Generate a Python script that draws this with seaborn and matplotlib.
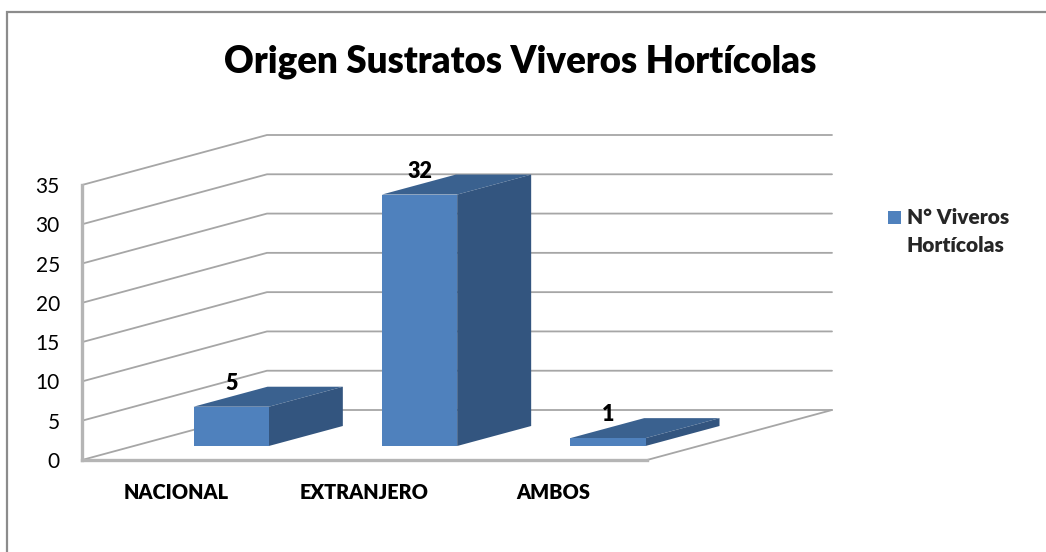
import matplotlib
matplotlib.use("Agg")
import matplotlib.pyplot as plt
from matplotlib.lines import Line2D
from matplotlib.patches import Polygon
import pandas as pd
import seaborn as sns

categorias = ["NACIONAL", "EXTRANJERO", "AMBOS"]
viveros = [5, 32, 1]
ticks = [0, 5, 10, 15, 20, 25, 30, 35]
titulo = "Origen Sustratos Viveros Hortícolas"
serie = "N° Viveros\nHortícolas"

sns.set_theme(style="white")
plt.rcParams["font.family"] = ["Lato", "DejaVu Sans"]

W, H = 1046, 552
AZUL = "#4f81bd"
AZUL_TOP = "#3a618f"
AZUL_LADO = "#33557f"
GRIS = "#a6a6a6"
PESO = "heavy"

df = pd.DataFrame({"origen": categorias, "n": viveros, "serie": serie})

fig = plt.figure(figsize=(W / 100, H / 100), dpi=100)
# ejes = pared frontal del grafico 3d, en pixeles de la imagen
x0, x1, y0, y1 = 82, 647, 460, 185
ax = fig.add_axes([x0 / W, 1 - y0 / H, (x1 - x0) / W, (y0 - y1) / H])
sns.barplot(data=df, x="origen", y="n", hue="serie", palette=[AZUL], saturation=1, width=0.4, linewidth=0, ax=ax)
ax.set_xlim(-0.5, 2.5)
ax.set_ylim(0, 35)
ax.set_yticks(ticks)
ax.patch.set_alpha(0)
ax.set_xlabel("")
ax.set_ylabel("")
sns.despine(ax=ax, top=True, right=True)

# profundidad en unidades de datos
px_x = (x1 - x0) / 3
px_y = (y0 - y1) / 35
prof_x, prof_y = 185 / px_x, 50 / px_y
base_x, base_y = 55 / px_x, 14 / px_y
barra_x, barra_y = 74 / px_x, 20 / px_y

# pared y piso
for t in ticks:
    ax.plot([-0.5, -0.5 + prof_x, 2.5 + prof_x], [t, t + prof_y, t + prof_y],
            color=GRIS, lw=1.3, clip_on=False, zorder=1, solid_joinstyle="miter")
ax.plot([2.5, 2.5 + prof_x], [0, prof_y], color=GRIS, lw=1.3, clip_on=False, zorder=1)

# caras de las barras a partir de los patches de seaborn
for bar, v in zip(ax.patches, viveros):
    bar.set_x(bar.get_x() + base_x)
    bar.set_y(base_y)
    bar.set_clip_on(False)
    bar.set_zorder(4)
    xa, xb = bar.get_x(), bar.get_x() + bar.get_width()
    ya, yb = base_y, base_y + v
    top = [(xa, yb), (xb, yb), (xb + barra_x, yb + barra_y), (xa + barra_x, yb + barra_y)]
    lado = [(xb, ya), (xb + barra_x, ya + barra_y), (xb + barra_x, yb + barra_y), (xb, yb)]
    ax.add_patch(Polygon(top, closed=True, fc=AZUL_TOP, ec="none", clip_on=False, zorder=3))
    ax.add_patch(Polygon(lado, closed=True, fc=AZUL_LADO, ec="none", clip_on=False, zorder=3))
    ax.annotate(str(v), (xa + bar.get_width() * 0.48, yb + barra_y), xytext=(1.5, 2.5), textcoords="offset points",
                ha="center", va="center", fontsize=15.5, fontweight=PESO, color="black", zorder=6,
                annotation_clip=False)

for nombre in ["left", "bottom"]:
    ax.spines[nombre].set_color("#b5b5b5")
    ax.spines[nombre].set_linewidth(2.4)
    ax.spines[nombre].set_zorder(2)
ax.tick_params(axis="y", length=0, pad=16, labelsize=15, labelcolor="black")
ax.tick_params(axis="x", length=0, pad=16.5, labelsize=14.3, labelcolor="black")
for lab in ax.get_xticklabels():
    lab.set_fontweight(PESO)

fig.text(520 / W, 1 - 62 / H, titulo, ha="center", va="center", fontsize=26.4, fontweight=PESO, color="black")

handles, labels = ax.get_legend_handles_labels()
leg = ax.legend(handles, labels, frameon=False, loc="upper left", bbox_to_anchor=(888 / W, 1 - 208 / H),
                bbox_transform=fig.transFigure, prop={"weight": PESO, "size": 15}, handlelength=0.65,
                handleheight=0.65, handletextpad=0.26, borderpad=0, borderaxespad=0, labelspacing=0)
for txt in leg.get_texts():
    txt.set_linespacing(1.58)
caja = leg.legend_handles[0]
caja.set_width(9.5)
caja.set_height(9.5)
caja.set_y(11)

# marco exterior: solo arriba e izquierda
fig.add_artist(Line2D([7 / W, 7 / W, 1], [0, 1 - 12 / H, 1 - 12 / H], transform=fig.transFigure,
                      color="#8c8c8c", lw=1.6, solid_joinstyle="miter"))

fig.savefig("out.png", dpi=100, facecolor="white")
